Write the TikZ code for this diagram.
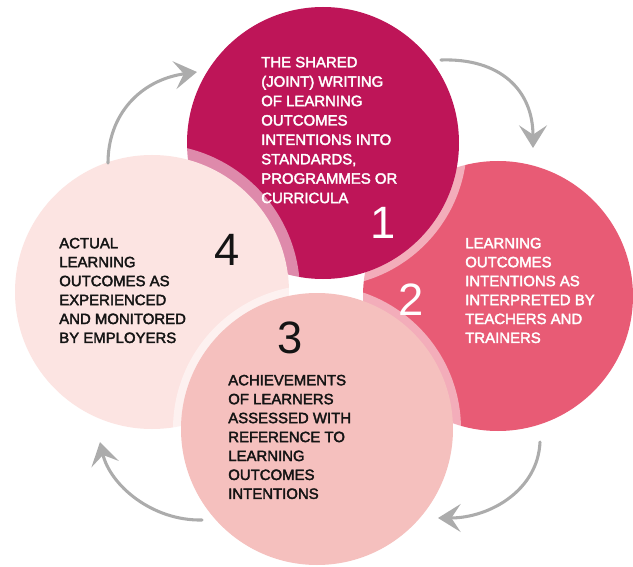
\documentclass[tikz,border=0pt]{standalone}
\usepackage{fontspec}
\setmainfont{Liberation Sans}
\newfontfamily\labelfont{Liberation Sans}[FakeBold=2.5]
\usetikzlibrary{arrows.meta}
\definecolor{cone}{RGB}{190,21,88}
\definecolor{ctwo}{RGB}{232,91,117}
\definecolor{cthree}{RGB}{245,192,190}
\definecolor{cfour}{RGB}{252,228,226}
\definecolor{arrowgray}{RGB}{172,172,172}
\definecolor{darktext}{RGB}{20,20,20}
\begin{document}
\begin{tikzpicture}[x=0.75pt,y=-0.75pt,
  disc/.style={circle, inner sep=0pt, outer sep=0pt, minimum size=204pt},
  halo/.style={circle, inner sep=0pt, outer sep=0pt, fill=white, fill opacity=0.5},
  txt/.style={anchor=north west, inner sep=0pt, align=left},
  num/.style={inner sep=0pt, font=\fontsize{34}{34}\selectfont},
  cyc/.style={draw=arrowgray, line width=2.3pt, line cap=round,
    -{Stealth[length=17pt,width=21pt,inset=7pt]}}
]
\useasboundingbox (0,0) rectangle (633,567);
% circle 2 (lowest layer)
\node[disc, fill=ctwo, minimum size=202.5pt] (c2) at (498,296) {};
% circle 1 with its light rim
\node[halo, minimum size=216pt] (h1) at (323,143) {};
\node[disc, fill=cone] (c1) at (323,143) {};
% circle 4 with its light rim
\node[halo, minimum size=222pt] (h4) at (152,292) {};
\node[disc, fill=cfour, minimum size=205.5pt] (c4) at (152,292) {};
% circle 3 with its light rim
\node[halo, minimum size=216pt] (h3) at (317,429) {};
\node[disc, fill=cthree] (c3) at (317,429) {};
% texts
\node[txt, text=white, font=\labelfont\fontsize{11.2}{14.55}\selectfont] (t1) at (261,56.6)
  {THE SHARED\\(JOINT) WRITING\\OF LEARNING\\OUTCOMES\\INTENTIONS INTO\\STANDARDS,\\PROGRAMMES OR\\CURRICULA};
\node[txt, text=white, font=\labelfont\fontsize{11.2}{14.2}\selectfont] (t2) at (465,237.6)
  {LEARNING\\OUTCOMES\\INTENTIONS AS\\INTERPRETED BY\\TEACHERS AND\\TRAINERS};
\node[txt, text=darktext, font=\labelfont\fontsize{11.2}{14.2}\selectfont] (t3) at (228,374.6)
  {ACHIEVEMENTS\\OF LEARNERS\\ASSESSED WITH\\REFERENCE TO\\LEARNING\\OUTCOMES\\INTENTIONS};
\node[txt, text=darktext, font=\labelfont\fontsize{11.2}{14.2}\selectfont] (t4) at (59,237.6)
  {ACTUAL\\LEARNING\\OUTCOMES AS\\EXPERIENCED\\AND MONITORED\\BY EMPLOYERS};
% numbers
\node[num, text=white] (n1) at (383,223) {1};
\node[num, text=white] (n2) at (411,300) {2};
\node[num, text=darktext] (n3) at (290,338) {3};
\node[num, text=darktext] (n4) at (227,250) {4};
% cycle arrows
\coordinate (a1s) at (108,163); \coordinate (a1e) at (197,72);
\coordinate (a2s) at (441,60);  \coordinate (a2e) at (533,148);
\coordinate (a3s) at (540,442); \coordinate (a3e) at (438,518);
\coordinate (a4s) at (202,520); \coordinate (a4e) at (100,442);
\draw[cyc] (a1s) .. controls (108,115) and (140,80) .. (a1e);
\draw[cyc] (a2s) .. controls (500,58) and (533,90) .. (a2e);
\draw[cyc] (a3s) .. controls (538,490) and (490,518) .. (a3e);
\draw[cyc] (a4s) .. controls (152,521) and (110,485) .. (a4e);
\end{tikzpicture}
\end{document}
